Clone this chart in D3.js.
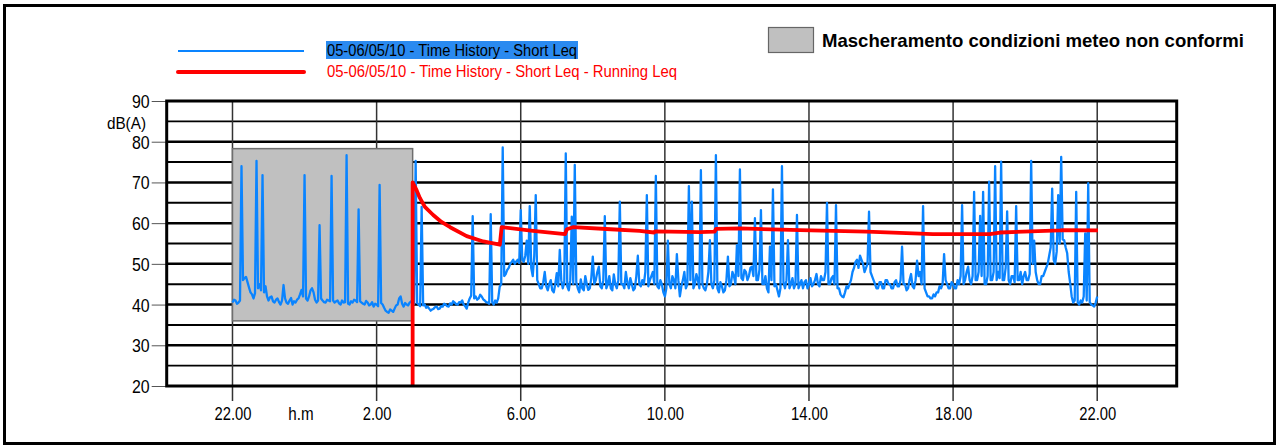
<!DOCTYPE html>
<html><head><meta charset="utf-8">
<script src="https://cdn.jsdelivr.net/npm/d3@7/dist/d3.min.js"></script>
<style>html,body{margin:0;padding:0;background:#fff;} svg{display:block;}</style>
</head><body>
<svg id="chart" width="1276" height="446"></svg>
<script>
// ---------- data ----------
const xTickHours  = [0, 4, 8, 12, 16, 20, 24];           // hours since 22:00
const xTickLabels = ["22.00", "2.00", "6.00", "10.00", "14.00", "18.00", "22.00"];
const yTicks      = [20, 30, 40, 50, 60, 70, 80, 90];
const yUnit       = "dB(A)";
const xUnit       = "h.m";
const seriesNames = ["05-06/05/10 - Time History - Short Leq",
                     "05-06/05/10 - Time History - Short Leq - Running Leq"];
const maskLabel   = "Mascheramento condizioni meteo non conformi";
const maskHours   = [0, 5];        // 22:00 -> 03:00
const maskLevels  = [36, 78.3];
const sampleStepMin = 2.5;         // Short Leq sample step, minutes from 22:00

// Short Leq, 22:00 -> 02:59
const leqNight = [
 40.5,41.2,41,40.2,40.5,41.0,74,46,46.5,46.8,45.5,44.2,43,42.5,41.5,42.8,75.3,44,45,43.5,
 71.8,43,44.5,42,41,41.8,42,40.8,40.5,41.2,41.5,40.6,40,41,44.8,41.5,40.5,40.2,41,41.6,
 40,40.8,40.5,41.2,41.5,42.5,43.6,42,71.8,41.5,41,42,43.5,44,43,41.2,40.5,41,59.5,41.5,
 41,40.6,40.5,41.2,41,40.8,71.6,41,40.5,40.8,41,40.3,40,41,40.5,40.6,76.7,40.2,40,40.8,
 40.5,41.2,41,40.6,63.4,40.8,40.5,40.2,40,40.9,40.5,39.8,40,40.6,39.5,40.2,40,39.6,69.4,40.4,
 40,39.2,38.5,38.2,38,38.8,38.5,38.2,39,39.8,40,41.5,42,40.2,39.5,40.4,40,39.8,40.5,40.8
];
// 03:00 -> 07:59
const leqEarly = [
 41,40.2,75.3,40.4,40,39.6,64,39.8,40,39.2,39.5,39,38.5,38.8,39,39.4,39.5,38.9,39,39.6,
 39.5,40.2,40,39.6,39.5,40.3,40,40.8,40.5,40.1,40,40.6,40.5,41,40,39.6,39,40.5,41.5,42.2,
 61.7,41.5,42,41.2,41.5,42.4,42,41.3,41,40.6,40.5,40.2,62.2,40.6,40,41,40.5,41.5,44.4,45,
 78.6,47,47.5,48.5,49,50,50.5,51,50,50.6,51,50.2,63.2,51,50.5,52,55.7,50,64.2,49,
 47,52,66.9,46,45,44,44,45.5,48,44.5,43.5,45,46,43.5,43,45,47.7,44.5,53.4,46,
 44,45.5,77.1,44.5,43.5,46,61.6,45,74.3,45.5,44,43,46.2,44,43.5,47,45,43.6,44,46.5
];
// 08:00 -> 12:59
const leqMorning = [
 51.8,45,46,48,49.3,44.5,44,46,61.7,44,45,47,44,43.5,47.4,45,44,46,65.3,45,
 45,44,48,45.5,44,46.5,45,43.5,44,47,52,45,44.5,46,45,48,66.9,44.5,46,47,
 48,45,71.6,44.5,44,46,45,43,42,44,55.7,45,44,47,46,44,52.4,46,42,44.5,
 46,48,44,45,69.1,46,65.3,44,45,47.5,46,44,73,45,44,43.5,45,48,55.8,45,
 44,46,76.7,44,43,45.5,44.5,43,43.5,46,51.8,44.5,45,48,47,45,54.6,47,73.2,46.5,
 46,48.5,48,46,47,49,49.3,47,61.2,46,46,48.5,63.2,45,45,47,44,43,54.2,46
];
// 13:00 -> 17:59
const leqAfternoon = [
 68.3,44.5,45,43.5,42,44,74,45.5,44,46,55.8,44,45,46.5,44,45,62,44,45,46,
 44,45.5,46,44,45,46.5,44.5,45,46,47.5,45,44.5,47,46,46,48,65,45,45,46.5,
 47,45,64.4,44,44,42.5,42,41.8,43,44.5,44,45,46,48,49,50.5,51,49,52,51,
 50,48,49,50,62.8,48,47,46,45,44,44,45.5,45.5,44,44,46,46,45,45,44,
 44,45.5,46,44.5,44.5,46,54.2,45,45,43.5,44,46,47.5,44.5,44,46,50.8,47,48,45,
 64.2,44,43,42,42,41.5,41.5,42.5,42,43,43,44.5,44,45,52.4,46,45,44,44,45.5
];
// 18:00 -> 22:00
const leqEvening = [
 45,44,44,46,45,47,64.4,45,46,48,49.3,46,45,47,67.7,46,46,48,61.8,47,
 67.7,45,45,47,70.2,46,46,48,74,46,48,46.5,75.1,46,46,49,62.9,46,45,47,
 47,45.5,64.2,46,46,48,45,47,48,46,46,47.5,75.3,50,55.7,48,46,45,45,47,
 47,48,49,50,52,54,68.5,51,50,53,66.9,55,76.3,56,55.8,54,52.6,48,45.2,42,
 40.5,41,67.7,40.5,40,41,40.5,42,57.5,41,69.8,40.6,40,39.8,39.5,40.5,42
];
const shortLeq = [].concat(leqNight, leqEarly, leqMorning, leqAfternoon, leqEvening);

const runLeqHours  = [5.0, 5.0, 5.11, 5.20, 5.34, 5.57, 5.8, 6.04, 6.5, 6.96, 7.42, 7.47, 8.34, 9.23, 9.28, 9.45,
                      10.5, 11.3, 11.70, 11.73, 12.97, 13.38, 13.42, 14.09, 15.75, 17.6, 19.44, 21.02, 21.3, 22.97, 23.05, 24.02];
const runLeqValues = [20, 70, 68.1, 66.2, 64.0, 62.0, 60.3, 59.0, 56.8, 55.5, 54.7, 59.0, 58.1, 57.3, 58.5, 59.0,
                      58.5, 58.1, 57.7, 58.0, 57.8, 57.9, 58.6, 58.7, 58.3, 57.9, 57.3, 57.3, 57.7, 58.2, 58.3, 58.2];

// ---------- layout ----------
const W = 1276, H = 446;
const plot = {left: 166.7, right: 1176.7, top: 101, bottom: 386};
const FONT = "'Liberation Sans', Arial, sans-serif";
const svg = d3.select("#chart");

const x = d3.scaleLinear().domain([-1.826, 26.206]).range([plot.left, plot.right]);
const y = d3.scaleLinear().domain([20, 90]).range([plot.bottom, plot.top]);

function squeeze(sel, k) {
  sel.each(function () {
    const w = this.getComputedTextLength();
    d3.select(this).attr("textLength", w * k).attr("lengthAdjust", "spacingAndGlyphs");
  });
}

// outer border
svg.append("rect").attr("x", 4.5).attr("y", 5.5).attr("width", W - 6).attr("height", H - 8)
  .attr("fill", "#fff").attr("stroke", "#000").attr("stroke-width", 3);

// horizontal grid
const gridLevels = d3.range(25, 90, 5);
svg.append("g").selectAll("line").data(gridLevels).join("line")
  .attr("x1", plot.left).attr("x2", plot.right)
  .attr("y1", d => y(d)).attr("y2", d => y(d))
  .attr("stroke", "#000").attr("stroke-width", d => d % 10 === 0 ? 2.5 : 1.9);

// vertical grid + ticks
svg.append("g").selectAll("line").data(xTickHours).join("line")
  .attr("x1", d => x(d)).attr("x2", d => x(d))
  .attr("y1", plot.top).attr("y2", plot.bottom + 15)
  .attr("stroke", "#333").attr("stroke-width", 1.5);

// mask rectangle
svg.append("rect")
  .attr("x", x(maskHours[0])).attr("y", y(maskLevels[1]))
  .attr("width", x(maskHours[1]) - x(maskHours[0]))
  .attr("height", y(maskLevels[0]) - y(maskLevels[1]))
  .attr("fill", "#c0c0c0").attr("stroke", "#6e6e6e").attr("stroke-width", 1.5);

// y ticks & labels
const yAxis = d3.axisLeft(y).tickValues(yTicks).tickSize(15).tickFormat(d3.format("d"));
const ya = svg.append("g").attr("transform", `translate(${plot.left},0)`).call(yAxis);
ya.select(".domain").remove();
ya.selectAll(".tick line").attr("stroke", "#555").attr("stroke-width", 1);
ya.selectAll(".tick text").attr("x", -17).attr("font-family", FONT).attr("font-size", 18.5)
  .attr("fill", "#000").attr("dy", "0.35em").call(squeeze, 0.86);
svg.append("text").attr("x", 146).attr("y", 129).attr("text-anchor", "end")
  .attr("font-family", FONT).attr("font-size", 17).text(yUnit).call(squeeze, 0.9);

// x labels
const xAxis = d3.axisBottom(x).tickValues(xTickHours).tickSize(0)
  .tickFormat((d, i) => xTickLabels[i]);
const xa = svg.append("g").attr("transform", `translate(0,${plot.bottom})`).call(xAxis);
xa.select(".domain").remove();
xa.selectAll(".tick text").attr("y", 33.5).attr("dy", 0).attr("font-family", FONT).attr("font-size", 18.5)
  .attr("fill", "#000").call(squeeze, 0.8);
svg.append("text").attr("x", x(1.9)).attr("y", 419.5).attr("text-anchor", "middle")
  .attr("font-family", FONT).attr("font-size", 18.5).text(xUnit).call(squeeze, 0.82);

// short Leq series
const blueLine = d3.line()
  .x((d, i) => x(i * sampleStepMin / 60))
  .y(d => y(d));
svg.append("path").datum(shortLeq).attr("d", blueLine)
  .attr("fill", "none").attr("stroke", "#0a84ff").attr("stroke-width", 2.3).attr("stroke-linejoin", "round");

// running Leq
const runData = runLeqHours.map((h, i) => [h, runLeqValues[i]]);
svg.append("path").datum(runData)
  .attr("d", d3.line().x(d => x(d[0])).y(d => y(d[1])))
  .attr("fill", "none").attr("stroke", "#ff0000").attr("stroke-width", 3.8).attr("stroke-linejoin", "round");

// plot frame
svg.append("rect").attr("x", plot.left).attr("y", plot.top)
  .attr("width", plot.right - plot.left).attr("height", plot.bottom - plot.top)
  .attr("fill", "none").attr("stroke", "#000").attr("stroke-width", 3);

// legend
const lg = svg.append("g");
lg.append("line").attr("x1", 178).attr("x2", 304).attr("y1", 51).attr("y2", 51)
  .attr("stroke", "#0a84ff").attr("stroke-width", 2.2);
lg.append("line").attr("x1", 178).attr("x2", 304).attr("y1", 72).attr("y2", 72)
  .attr("stroke", "#ff0000").attr("stroke-width", 4).attr("stroke-linecap", "round");
lg.append("rect").attr("x", 326).attr("y", 41).attr("width", 252).attr("height", 18).attr("fill", "#2a8af0");
lg.append("text").attr("x", 327).attr("y", 55.5).attr("font-family", FONT).attr("font-size", 16.5)
  .attr("fill", "#000").attr("textLength", 250).attr("lengthAdjust", "spacingAndGlyphs").text(seriesNames[0]);
lg.append("text").attr("x", 327).attr("y", 77).attr("font-family", FONT).attr("font-size", 16.5)
  .attr("fill", "#ff0000").attr("textLength", 350).attr("lengthAdjust", "spacingAndGlyphs").text(seriesNames[1]);

lg.append("rect").attr("x", 768.5).attr("y", 27.5).attr("width", 45).attr("height", 25)
  .attr("fill", "#c0c0c0").attr("stroke", "#666").attr("stroke-width", 1.2);
lg.append("text").attr("x", 822).attr("y", 46.5).attr("font-family", FONT).attr("font-size", 19)
  .attr("font-weight", "bold").attr("fill", "#000")
  .attr("textLength", 422).attr("lengthAdjust", "spacingAndGlyphs").text(maskLabel);
</script>
</body></html>
